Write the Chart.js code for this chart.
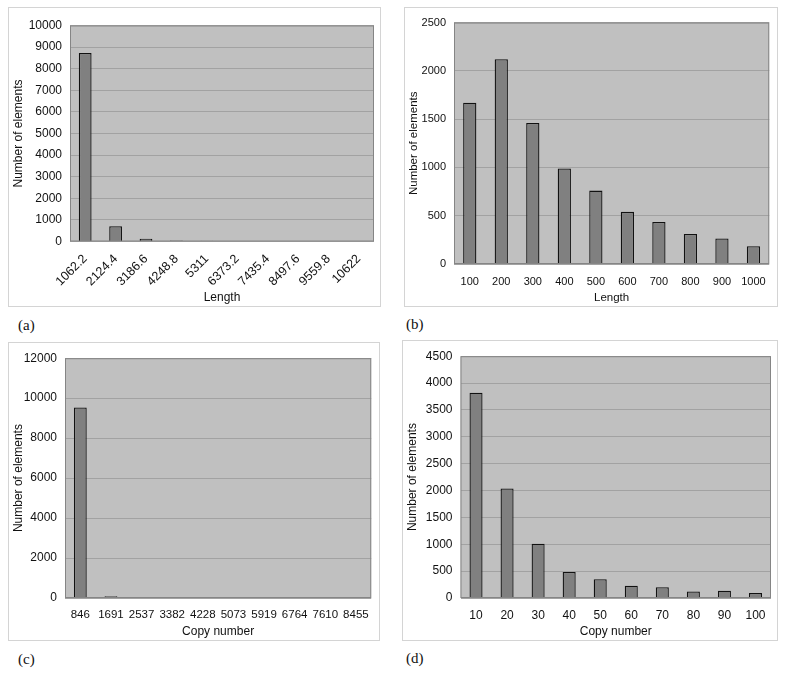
<!DOCTYPE html>
<html lang="en">
<head>
    <meta charset="UTF-8">
    <title>Length and copy number distributions</title>
    <script src="https://cdn.jsdelivr.net/npm/chart.js"></script>
    <style>
        body { margin: 0; background: #fff; }
        .page { position: relative; width: 785px; height: 675px; overflow: hidden; }
        .panel { position: absolute; border: 1px solid #d4d4d4; }
        .panel canvas { display: block; }
        .tag { position: absolute; font-family: "Liberation Serif", "Times New Roman", serif; font-size: 15px; color: #111; line-height: 18px; }
    </style>
</head>
<body>
<div class="page">
    <div class="panel" style="left:8px;top:7px;width:371px;height:298px"><canvas id="chart-a"></canvas></div>
    <div class="panel" style="left:404px;top:7px;width:372px;height:298px"><canvas id="chart-b"></canvas></div>
    <div class="panel" style="left:8px;top:342px;width:370px;height:297px"><canvas id="chart-c"></canvas></div>
    <div class="panel" style="left:402px;top:340px;width:374px;height:299px"><canvas id="chart-d"></canvas></div>
    <div class="tag" style="left:18px;top:316px">(a)</div>
    <div class="tag" style="left:406px;top:315px">(b)</div>
    <div class="tag" style="left:18px;top:650px">(c)</div>
    <div class="tag" style="left:406px;top:649px">(d)</div>
</div>

<script>
    // (a) length, wide bins
    const lengthBinsWide = ['1062.2', '2124.4', '3186.6', '4248.8', '5311', '6373.2', '7435.4', '8497.6', '9559.8', '10622'];
    const lengthCountsWide = [8730, 710, 130, 45, 40, 0, 0, 0, 0, 0];

    // (b) length, first 1000
    const lengthBins = ['100', '200', '300', '400', '500', '600', '700', '800', '900', '1000'];
    const lengthCounts = [1670, 2120, 1460, 990, 760, 540, 435, 310, 265, 185];

    // (c) copy number, wide bins
    const copyBinsWide = ['846', '1691', '2537', '3382', '4228', '5073', '5919', '6764', '7610', '8455'];
    const copyCountsWide = [9530, 90, 0, 0, 0, 0, 0, 0, 0, 0];

    // (d) copy number, first 100
    const copyBins = ['10', '20', '30', '40', '50', '60', '70', '80', '90', '100'];
    const copyCounts = [3820, 2040, 1010, 485, 350, 230, 200, 120, 135, 95];

    const FONT = '"Liberation Sans", Arial, sans-serif';

    // grey plot area with a frame, like the spreadsheet chart
    const plotArea = {
        id: 'plotArea',
        beforeDraw(chart) {
            const a = chart.chartArea;
            const ctx = chart.ctx;
            ctx.save();
            ctx.fillStyle = '#c0c0c0';
            ctx.fillRect(a.left, a.top, a.right - a.left, a.bottom - a.top);
            ctx.restore();
        },
        afterDraw(chart) {
            const a = chart.chartArea;
            const ctx = chart.ctx;
            ctx.save();
            ctx.strokeStyle = '#858585';
            ctx.lineWidth = 1;
            ctx.strokeRect(a.left + 0.5, a.top + 0.5, a.right - a.left - 1, a.bottom - a.top - 1);
            ctx.restore();
        }
    };

    function makeChart(id, labels, values, o) {
        const canvas = document.getElementById(id);
        canvas.width = o.w;
        canvas.height = o.h;
        return new Chart(canvas, {
            type: 'bar',
            data: {
                labels: labels,
                datasets: [{
                    data: values,
                    backgroundColor: '#808080',
                    borderColor: '#111',
                    borderWidth: 1.3,
                    barPercentage: 0.42,
                    categoryPercentage: 1.0
                }]
            },
            options: {
                responsive: false,
                animation: false,
                layout: { padding: { top: o.padTop, right: 6, left: 0, bottom: 0 } },
                plugins: { legend: { display: false }, tooltip: { enabled: false } },
                scales: {
                    x: {
                        grid: { display: false, drawTicks: false },
                        border: { display: false },
                        ticks: {
                            color: '#111',
                            font: { family: FONT, size: o.xFont },
                            padding: o.xPad,
                            minRotation: o.rot,
                            maxRotation: o.rot,
                            autoSkip: false
                        },
                        title: {
                            display: true,
                            text: o.xTitle,
                            color: '#111',
                            font: { family: FONT, size: o.titleFont },
                            padding: { top: 0, bottom: o.xTitlePad }
                        },
                        afterFit(scale) { scale.height = o.xHeight; }
                    },
                    y: {
                        min: 0,
                        max: o.yMax,
                        grid: { color: '#a2a2a2', drawTicks: false },
                        border: { display: false },
                        ticks: {
                            stepSize: o.yStep,
                            color: '#111',
                            font: { family: FONT, size: o.yFont },
                            padding: 8,
                            callback: v => String(v)
                        },
                        title: {
                            display: true,
                            text: 'Number of elements',
                            color: '#111',
                            font: { family: FONT, size: o.titleFont },
                            padding: { top: o.yTitlePad, bottom: 0 }
                        },
                        afterFit(scale) { scale.width = o.yWidth; }
                    }
                }
            },
            plugins: [plotArea]
        });
    }

    makeChart('chart-a', lengthBinsWide, lengthCountsWide, {
        w: 371, h: 298, padTop: 17.5, yWidth: 61, xHeight: 64.5,
        yMax: 10000, yStep: 1000, xTitle: 'Length', rot: 45,
        xFont: 12.5, yFont: 12, titleFont: 12, xPad: 10, xTitlePad: 1, yTitlePad: 2
    });

    makeChart('chart-b', lengthBins, lengthCounts, {
        w: 372, h: 298, padTop: 8, yWidth: 49, xHeight: 42,
        yMax: 2500, yStep: 500, xTitle: 'Length', rot: 0,
        xFont: 11, yFont: 11, titleFont: 11.5, xPad: 11, xTitlePad: 1, yTitlePad: 2
    });

    makeChart('chart-c', copyBinsWide, copyCountsWide, {
        w: 370, h: 297, padTop: 14, yWidth: 56, xHeight: 42,
        yMax: 12000, yStep: 2000, xTitle: 'Copy number', rot: 0,
        xFont: 11.5, yFont: 12, titleFont: 12, xPad: 10, xTitlePad: 1.5, yTitlePad: 2
    });

    makeChart('chart-d', copyBins, copyCounts, {
        w: 374, h: 299, padTop: 8, yWidth: 57.5, xHeight: 42,
        yMax: 4500, yStep: 500, xTitle: 'Copy number', rot: 0,
        xFont: 12, yFont: 12, titleFont: 12, xPad: 10, xTitlePad: 1.5, yTitlePad: 2
    });
</script>
</body>
</html>
